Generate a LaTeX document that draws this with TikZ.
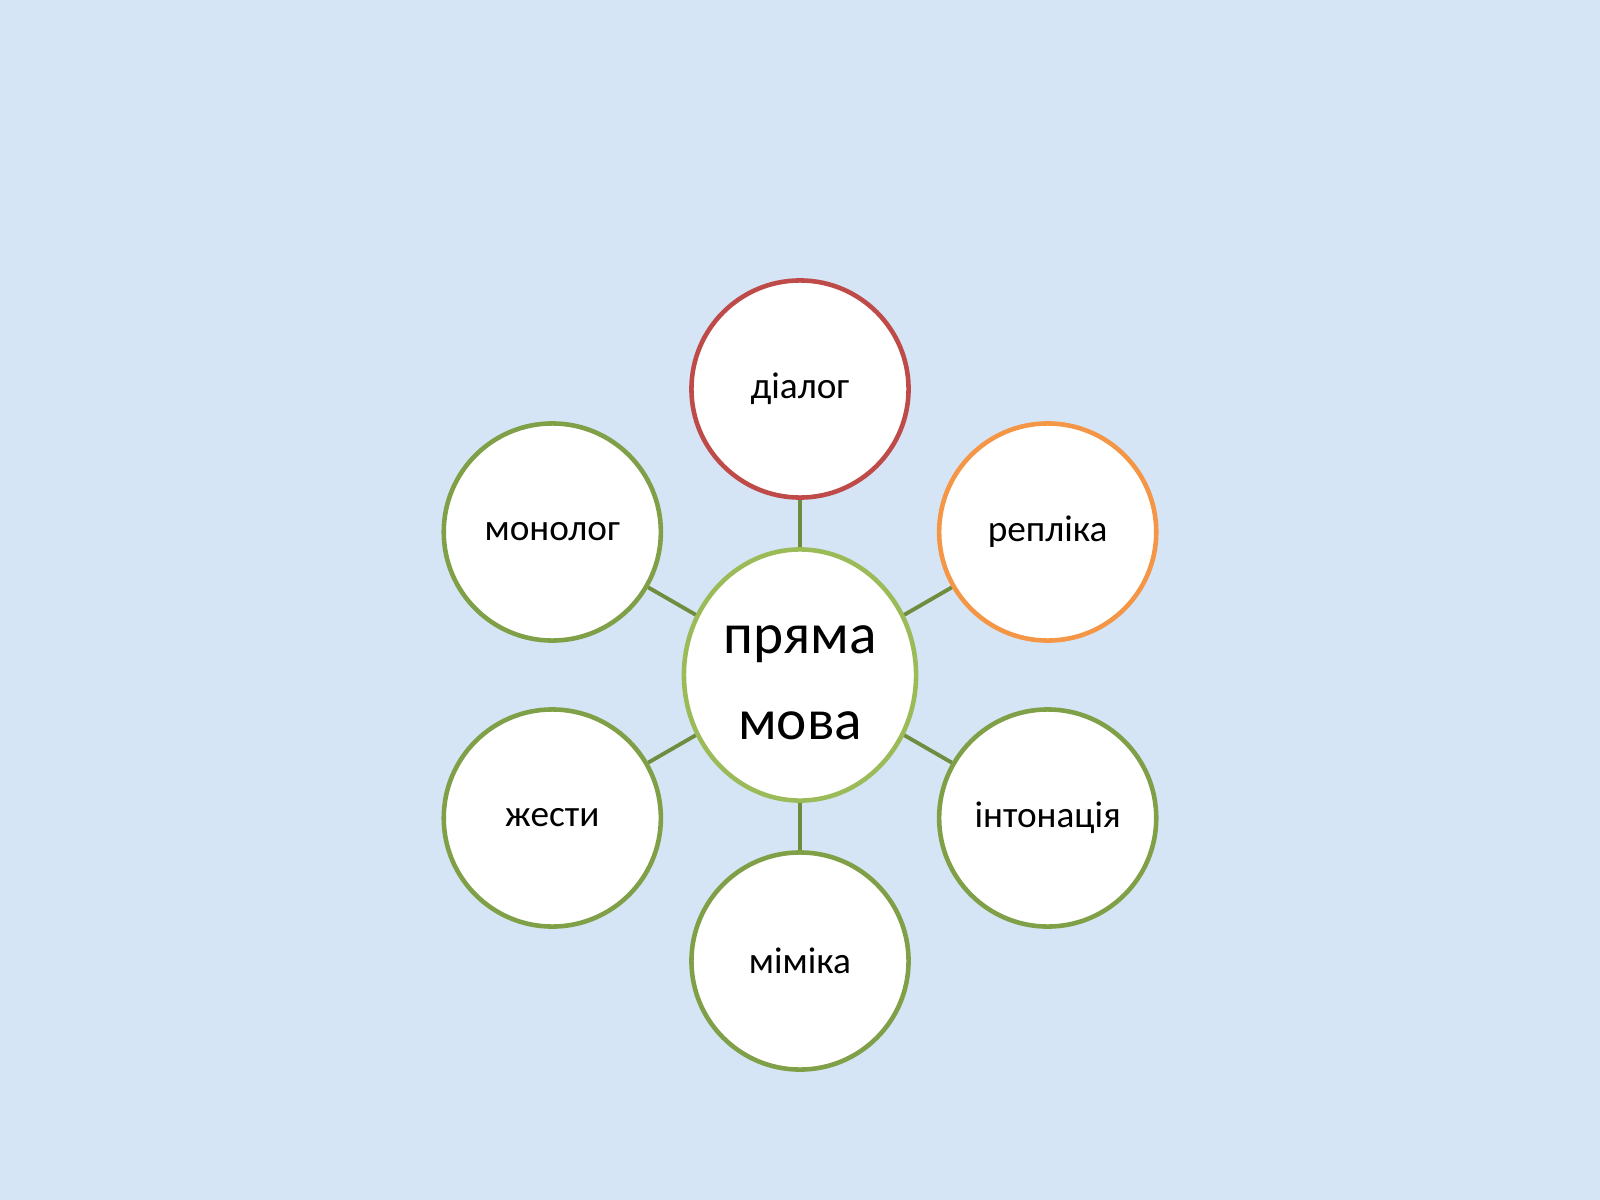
\documentclass[tikz,border=0pt]{standalone}
\usepackage{fontspec}
\setmainfont{Carlito}
\usetikzlibrary{shapes.geometric}
\definecolor{bgblue}{RGB}{214,229,245}
\definecolor{ringgreen}{RGB}{127,160,70}
\definecolor{centergreen}{RGB}{155,187,89}
\definecolor{linkgreen}{RGB}{112,140,62}
\definecolor{ringred}{RGB}{190,75,72}
\definecolor{ringorange}{RGB}{244,150,70}
\begin{document}
\begin{tikzpicture}[x=0.01cm,y=-0.01cm,
  outer/.style={circle,draw=ringgreen,line width=1.3pt,fill=white,minimum size=2.17cm,inner sep=0pt,font=\fontsize{10.6}{13}\selectfont},
  hub/.style={ellipse,draw=centergreen,line width=1.3pt,fill=white,minimum width=2.32cm,minimum height=2.51cm,inner sep=0pt,font=\fontsize{16.3}{24.7}\selectfont},
  link/.style={draw=linkgreen,line width=1.1pt}]
\fill[bgblue] (0,0) rectangle (1600,1200);
\useasboundingbox (0,0) rectangle (1600,1200);
\node[hub] (hub) at (800,675) {\raisebox{-5.5pt}[0pt][0pt]{\begin{tabular}{@{}c@{}}пряма\\мова\end{tabular}}};
\node[outer,draw=ringred] (dialog) at (800,389) {діалог};
\node[outer,draw=ringorange] (replika) at (1047.7,532) {репліка};
\node[outer] (intonacia) at (1047.7,818) {інтонація};
\node[outer] (mimika) at (800,961) {міміка};
\node[outer] (zhesty) at (552.3,818) {жести};
\node[outer] (monolog) at (552.3,532) {монолог};
\foreach \n in {dialog,replika,intonacia,mimika,zhesty,monolog}{
  \path[link] (hub) -- (\n);
}
\end{tikzpicture}
\end{document}
